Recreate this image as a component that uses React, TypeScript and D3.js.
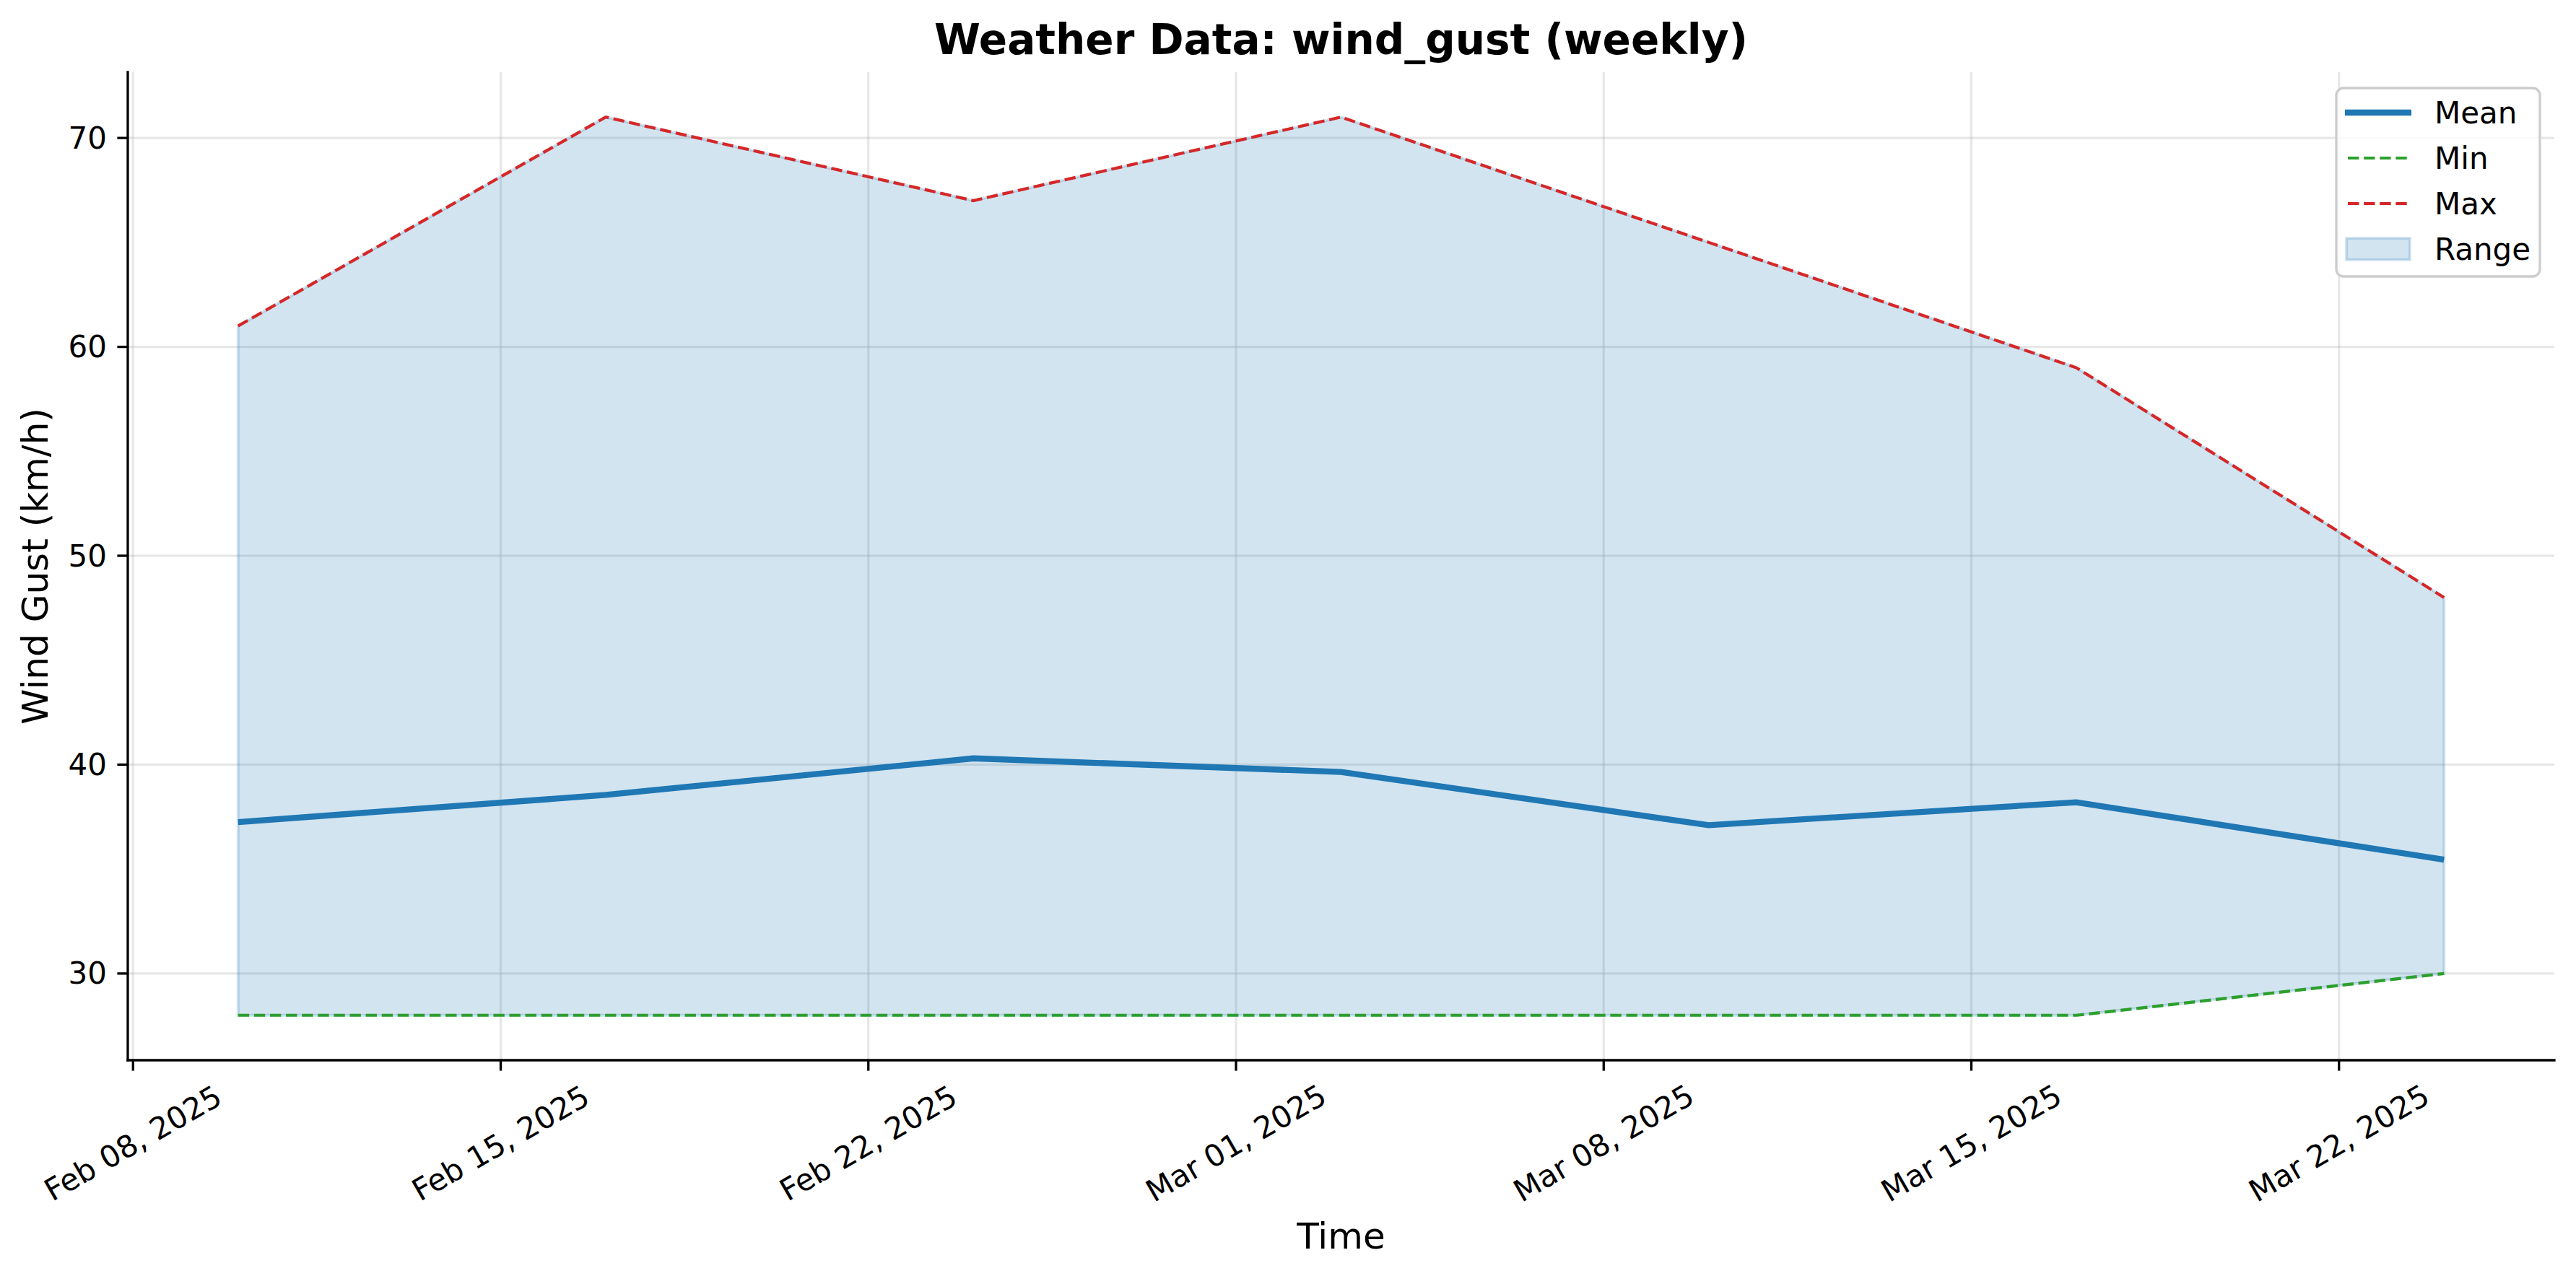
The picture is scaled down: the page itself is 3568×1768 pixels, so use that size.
import React, { useRef, useEffect } from 'react';
import * as d3 from 'd3';

// weekly wind gust data
const weekDates = ["2025-02-10", "2025-02-17", "2025-02-24", "2025-03-03", "2025-03-10", "2025-03-17", "2025-03-24"];
const meanVals = [37.25, 38.55, 40.3, 39.65, 37.1, 38.2, 35.45];
const minVals = [28, 28, 28, 28, 28, 28, 30];
const maxVals = [61, 71, 67, 71, 65, 59, 48];

const xTickDates = ["2025-02-08", "2025-02-15", "2025-02-22", "2025-03-01", "2025-03-08", "2025-03-15", "2025-03-22"];
const yTicks = [30, 40, 50, 60, 70];
const legendItems = ["Mean", "Min", "Max", "Range"];

const W = 3568;
const H = 1768;
const FONT = "'DejaVu Sans', sans-serif";

function App() {
  const svgRef = useRef(null);

  useEffect(() => {
    const svg = d3.select(svgRef.current);
    svg.selectAll("*").remove();

    const left = 177, right = 3538, top = 100, bottom = 1469;
    const parse = d3.utcParse("%Y-%m-%d");
    const rows = weekDates.map((d, i) => ({
      t: parse(d), mean: meanVals[i], min: minVals[i], max: maxVals[i]
    }));

    // matplotlib-like 5% margins
    const [t0, t1] = d3.extent(rows, d => +d.t);
    const tPad = (t1 - t0) * 0.05;
    const x = d3.scaleUtc().domain([new Date(t0 - tPad), new Date(t1 + tPad)]).range([left, right]);
    const lo = d3.min(minVals), hi = d3.max(maxVals);
    const yPad = (hi - lo) * 0.05;
    const y = d3.scaleLinear().domain([lo - yPad, hi + yPad]).range([bottom, top]);

    const fmt = d3.utcFormat("%b %d, %Y");
    const xt = xTickDates.map(parse);

    // grid
    const grid = svg.append("g");
    grid.selectAll("line.gx").data(xt).enter().append("line")
      .attr("x1", d => x(d)).attr("x2", d => x(d))
      .attr("y1", top).attr("y2", bottom)
      .attr("stroke", "#b0b0b0").attr("stroke-opacity", 0.3).attr("stroke-width", 3.3);
    grid.selectAll("line.gy").data(yTicks).enter().append("line")
      .attr("x1", left).attr("x2", right)
      .attr("y1", d => y(d)).attr("y2", d => y(d))
      .attr("stroke", "#b0b0b0").attr("stroke-opacity", 0.3).attr("stroke-width", 3.3);

    // range band
    const area = d3.area().x(d => x(d.t)).y0(d => y(d.min)).y1(d => y(d.max));
    svg.append("path").datum(rows).attr("d", area)
      .attr("fill", "#1f77b4").attr("fill-opacity", 0.2)
      .attr("stroke", "#1f77b4").attr("stroke-opacity", 0.2).attr("stroke-width", 4);

    const line = key => d3.line().x(d => x(d.t)).y(d => y(d[key]));
    svg.append("path").datum(rows).attr("d", line("mean"))
      .attr("fill", "none").attr("stroke", "#1f77b4").attr("stroke-width", 8.3);
    svg.append("path").datum(rows).attr("d", line("min"))
      .attr("fill", "none").attr("stroke", "#2ca02c").attr("stroke-width", 4.2)
      .attr("stroke-dasharray", "15.4,6.7");
    svg.append("path").datum(rows).attr("d", line("max"))
      .attr("fill", "none").attr("stroke", "#d62728").attr("stroke-width", 4.2)
      .attr("stroke-dasharray", "15.4,6.7");

    // spines
    svg.append("line").attr("x1", left).attr("x2", left).attr("y1", top).attr("y2", bottom)
      .attr("stroke", "black").attr("stroke-width", 3.3).attr("stroke-linecap", "square");
    svg.append("line").attr("x1", left).attr("x2", right).attr("y1", bottom).attr("y2", bottom)
      .attr("stroke", "black").attr("stroke-width", 3.3).attr("stroke-linecap", "square");

    // x ticks
    const xg = svg.append("g");
    xg.selectAll("line").data(xt).enter().append("line")
      .attr("x1", d => x(d)).attr("x2", d => x(d))
      .attr("y1", bottom).attr("y2", bottom + 14.6)
      .attr("stroke", "black").attr("stroke-width", 3.3);
    xg.selectAll("text").data(xt).enter().append("text")
      .attr("transform", d => `translate(${x(d)},1584) rotate(-30)`)
      .attr("text-anchor", "middle").attr("dominant-baseline", "central")
      .attr("font-family", FONT).attr("font-size", 42)
      .text(d => fmt(d));

    // y ticks
    const yg = svg.append("g");
    yg.selectAll("line").data(yTicks).enter().append("line")
      .attr("x1", left - 14.6).attr("x2", left)
      .attr("y1", d => y(d)).attr("y2", d => y(d))
      .attr("stroke", "black").attr("stroke-width", 3.3);
    yg.selectAll("text").data(yTicks).enter().append("text")
      .attr("x", left - 29).attr("y", d => y(d))
      .attr("text-anchor", "end").attr("dominant-baseline", "central")
      .attr("font-family", FONT).attr("font-size", 42)
      .text(d => d);

    // labels and title
    const cx = (left + right) / 2;
    svg.append("text").attr("x", cx).attr("y", 75)
      .attr("text-anchor", "middle").attr("font-family", FONT)
      .attr("font-size", 58).attr("font-weight", "bold")
      .text("Weather Data: wind_gust (weekly)");
    svg.append("text").attr("x", cx).attr("y", 1730)
      .attr("text-anchor", "middle").attr("font-family", FONT).attr("font-size", 50)
      .text("Time");
    svg.append("text").attr("transform", `translate(66,${(top + bottom) / 2}) rotate(-90)`)
      .attr("text-anchor", "middle").attr("font-family", FONT).attr("font-size", 50)
      .text("Wind Gust (km/h)");

    // legend
    const lg = svg.append("g");
    lg.append("rect").attr("x", 3236).attr("y", 122).attr("width", 282).attr("height", 261)
      .attr("rx", 10).attr("fill", "white").attr("fill-opacity", 0.8)
      .attr("stroke", "#cccccc").attr("stroke-width", 3.3);
    const rowY = [156, 219, 282, 345];
    legendItems.forEach((name, i) => {
      const cy = rowY[i];
      if (name === "Mean") {
        lg.append("line").attr("x1", 3248).attr("x2", 3340).attr("y1", cy).attr("y2", cy)
          .attr("stroke", "#1f77b4").attr("stroke-width", 8.3);
      } else if (name === "Range") {
        lg.append("rect").attr("x", 3250).attr("y", cy - 15).attr("width", 88).attr("height", 30)
          .attr("fill", "#1f77b4").attr("fill-opacity", 0.2)
          .attr("stroke", "#1f77b4").attr("stroke-opacity", 0.2).attr("stroke-width", 4);
      } else {
        lg.append("line").attr("x1", 3252).attr("x2", 3334).attr("y1", cy).attr("y2", cy)
          .attr("stroke", name === "Min" ? "#2ca02c" : "#d62728").attr("stroke-width", 4.2)
          .attr("stroke-dasharray", "15.4,6.7");
      }
      lg.append("text").attr("x", 3372).attr("y", cy + 15)
        .attr("font-family", FONT).attr("font-size", 42).text(name);
    });
  }, []);

  return (
    <svg ref={svgRef} width={W} height={H}
      style={{ position: "absolute", left: 0, top: 0, background: "white" }}></svg>
  );
}

export default App;
